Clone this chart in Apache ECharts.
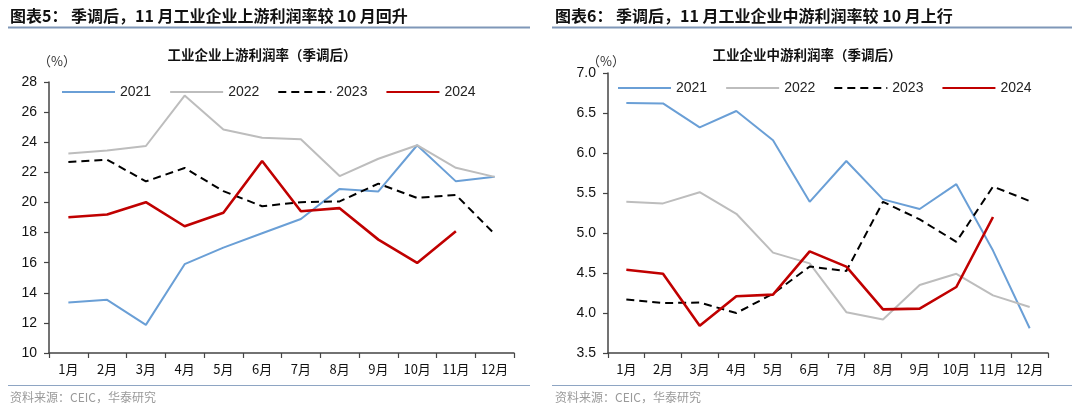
<!DOCTYPE html>
<html>
<head>
<meta charset="utf-8">
<script src="https://cdn.jsdelivr.net/npm/echarts@6/dist/echarts.min.js"></script>
<style>
html,body{margin:0;padding:0;background:#fff;}
#wrap{position:relative;width:1080px;height:411px;}
#c1{position:absolute;left:0;top:0;width:540px;height:411px;}
#c2{position:absolute;left:540px;top:0;width:540px;height:411px;}
</style>
</head>
<body>
<div id="wrap"><div id="c1"></div><div id="c2"></div></div>
<script>
const months = ['1月','2月','3月','4月','5月','6月','7月','8月','9月','10月','11月','12月'];
const years = ['2021','2022','2023','2024'];

// 上游利润率（季调后）
const up2021 = [13.35, 13.53, 11.87, 15.9, 17.0, 17.95, 18.9, 20.9, 20.73, 23.8, 21.4, 21.7];
const up2022 = [23.25, 23.45, 23.75, 27.1, 24.85, 24.3, 24.2, 21.75, 22.9, 23.8, 22.3, 21.7];
const up2023 = [22.69, 22.84, 21.4, 22.29, 20.75, 19.75, 20.02, 20.07, 21.25, 20.3, 20.5, 17.9];
const up2024 = [19.02, 19.2, 20.02, 18.42, 19.31, 22.75, 19.42, 19.62, 17.53, 15.98, 18.09];

// 中游利润率（季调后）
const mid2021 = [6.625, 6.62, 6.32, 6.525, 6.16, 5.39, 5.9, 5.42, 5.3, 5.61, 4.78, 3.81];
const mid2022 = [5.39, 5.37, 5.51, 5.24, 4.755, 4.62, 4.01, 3.92, 4.35, 4.49, 4.22, 4.075];
const mid2023 = [4.17, 4.125, 4.13, 4.0, 4.24, 4.58, 4.525, 5.39, 5.17, 4.89, 5.58, 5.4];
const mid2024 = [4.54, 4.49, 3.84, 4.21, 4.23, 4.77, 4.58, 4.045, 4.055, 4.325, 5.2];

const FONT = "'Liberation Sans','Noto Sans CJK SC',sans-serif";
const CJK = "'Noto Sans CJK SC','Liberation Sans',sans-serif";
const styles = [
  {color:'#6a9fd6', width:2, type:'solid'},
  {color:'#bdbdbd', width:2, type:'solid'},
  {color:'#000000', width:2, type:[8,5]},
  {color:'#c00000', width:2.6, type:'solid'}
];

function build(el, cfg) {
  const chart = echarts.init(el, null, {renderer:'canvas'});
  const series = cfg.data.map((d, i) => ({
    name: years[i], type:'line', data:d, symbol:'none', smooth:false,
    lineStyle:{color:styles[i].color, width:styles[i].width, type:styles[i].type},
    itemStyle:{color:styles[i].color}, z: i===3 ? 5 : 3
  }));
  chart.setOption({
    animation:false,
    backgroundColor:'#fff',
    grid:{left:cfg.gl, right:cfg.gr, top:cfg.gt, bottom:cfg.gb, containLabel:false},
    legend:{
      data:years, left:cfg.legLeft, top:cfg.legTop, padding:0,
      itemWidth:53, itemHeight:14, itemGap:18,
      itemStyle:{opacity:0},
      textStyle:{fontFamily:FONT, fontSize:14, color:'#222'}
    },
    xAxis:{
      type:'category', data:months, boundaryGap:true,
      axisLine:{lineStyle:{color:'#444', width:1.5}},
      axisTick:{show:true, length:5, lineStyle:{color:'#444', width:1.2}},
      axisLabel:{fontFamily:CJK, fontSize:13, color:'#111', margin:10, interval:0}
    },
    yAxis:{
      type:'value', min:cfg.min, max:cfg.max, interval:cfg.interval,
      splitLine:{show:false},
      axisLine:{show:true, lineStyle:{color:'#444', width:1.5}},
      axisTick:{show:true, length:5, lineStyle:{color:'#444', width:1.2}},
      axisLabel:{fontFamily:FONT, fontSize:14, color:'#111', margin:12,
        formatter: v => cfg.decimals ? v.toFixed(1) : String(v)}
    },
    graphic:[
      {type:'text', left:cfg.titleX, top:8, style:{text:cfg.title, font:"bold 16px "+CJK, fill:'#111'}},
      {type:'rect', shape:{x:cfg.ruleX1, y:26.5, width:cfg.ruleX2-cfg.ruleX1, height:2}, style:{fill:'#7f97b8'}},
      {type:'text', x:cfg.subX, y:55, style:{text:cfg.sub, font:"bold 13.5px "+CJK, fill:'#111', textAlign:'center', textVerticalAlign:'middle'}},
      {type:'text', x:cfg.pctX, y:cfg.pctY, style:{text:'（%）', font:"13px "+CJK, fill:'#333', textAlign:'center', textVerticalAlign:'middle'}},
      {type:'rect', shape:{x:cfg.ruleX1, y:385, width:cfg.ruleX2-cfg.ruleX1, height:1}, style:{fill:'#8ea5c3'}},
      {type:'text', x:cfg.titleX, y:397, style:{text:'资料来源：CEIC，华泰研究', font:"12px "+CJK, fill:'#9a9a9a', textVerticalAlign:'middle'}}
    ],
    series: series
  });
}

build(document.getElementById('c1'), {
  data:[up2021, up2022, up2023, up2024],
  min:10, max:28, interval:2, decimals:false,
  gl:49, gr:26, gt:82, gb:58,
  legLeft:61, legTop:85,
  title:'图表5： 季调后，11 月工业企业上游利润率较 10 月回升',
  titleX:10, ruleX1:8, ruleX2:530,
  sub:'工业企业上游利润率（季调后）', subX:262,
  pctX:57, pctY:61
});

build(document.getElementById('c2'), {
  data:[mid2021, mid2022, mid2023, mid2024],
  min:3.5, max:7.0, interval:0.5, decimals:true,
  gl:68, gr:32, gt:73, gb:58,
  legLeft:77, legTop:81,
  title:'图表6： 季调后，11 月工业企业中游利润率较 10 月上行',
  titleX:15, ruleX1:12, ruleX2:532,
  sub:'工业企业中游利润率（季调后）', subX:267,
  pctX:66, pctY:61
});
</script>
</body>
</html>
